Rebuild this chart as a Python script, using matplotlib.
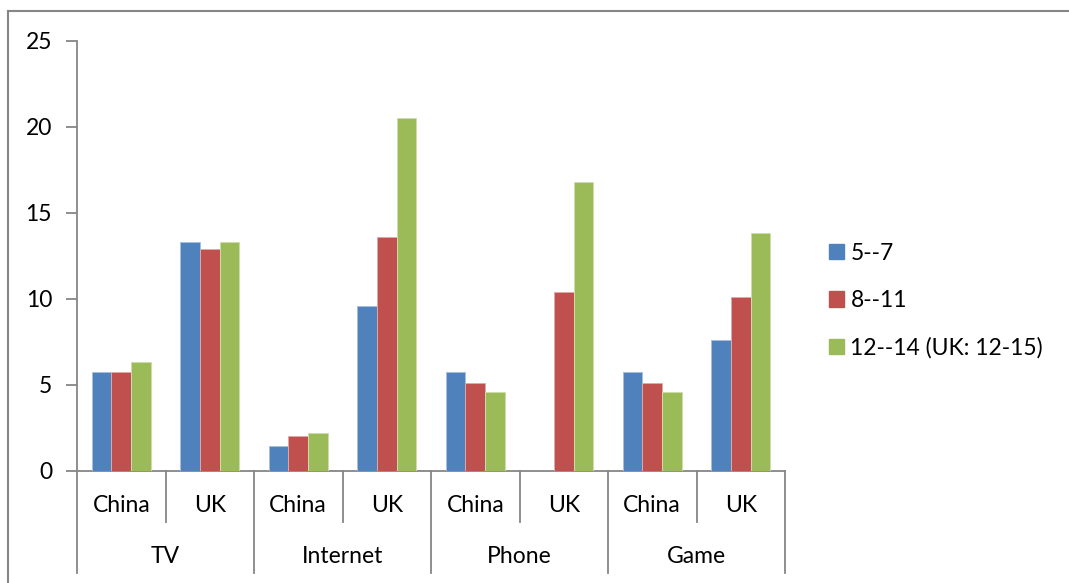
import matplotlib.pyplot as plt
import matplotlib.transforms as mtransforms
from matplotlib.lines import Line2D
import numpy as np

# data
media = ["TV", "Internet", "Phone", "Game"]
countries = ["China", "UK"]
series_names = ["5--7", "8--11", "12--14 (UK: 12-15)"]
age_5_7 = [5.72, 13.3, 1.41, 9.6, 5.72, 0, 5.72, 7.58]
age_8_11 = [5.76, 12.9, 2.03, 13.6, 5.08, 10.4, 5.08, 10.1]
age_12_14 = [6.3, 13.3, 2.21, 20.5, 4.55, 16.8, 4.55, 13.82]
colors = ["#4F81BD", "#C0504D", "#9BBB59"]
edges = ["#A7C0DE", "#E0A8A6", "#CDDDAC"]

plt.rcParams["font.family"] = ["Lato", "DejaVu Sans"]
fs = 16.5
axis_gray = "#868686"

W, H = 1069, 583
fig = plt.figure(figsize=(W / 100, H / 100), dpi=100)
ax = fig.add_axes([77 / W, (H - 470.7) / H, (785 - 77) / W, (470.7 - 40.7) / H])

n = len(media) * len(countries)
x = np.arange(n)
bw = 0.2222
for i, vals in enumerate([age_5_7, age_8_11, age_12_14]):
    ax.bar(x + (i - 1) * bw, vals, bw, color=colors[i], edgecolor=edges[i],
           linewidth=0.7, label=series_names[i], zorder=3)

ax.set_xlim(-0.5, n - 0.5)
ax.set_ylim(0, 25)
ax.set_yticks(np.arange(0, 26, 5))
ax.tick_params(axis="y", direction="out", length=8, width=1.3, color=axis_gray,
               labelsize=fs, pad=10)
ax.set_xticks([])
for s in ["top", "right"]:
    ax.spines[s].set_visible(False)
for s in ["left", "bottom"]:
    ax.spines[s].set_color(axis_gray)
    ax.spines[s].set_linewidth(1.3)

# two-level category axis
trans = mtransforms.blended_transform_factory(ax.transData, ax.transAxes)
for k in range(n):
    ax.text(x[k], -0.081, countries[k % 2], transform=trans, ha="center",
            va="center", fontsize=fs)
for g, m in enumerate(media):
    ax.text(2 * g + 0.5, -0.200, m, transform=trans, ha="center", va="center",
            fontsize=fs)
for b in range(n + 1):
    xb = b - 0.5
    y_end = -0.2385 if b % 2 == 0 else -0.119
    ax.add_line(Line2D([xb, xb], [0, y_end], transform=trans, color=axis_gray,
                       lw=1.3, clip_on=False))

# legend
handles = [plt.Rectangle((0, 0), 1, 1, color=c) for c in colors]
fig.legend(handles, series_names, loc="upper left",
           bbox_to_anchor=(808 / W, 1 - 222 / H), frameon=False, fontsize=fs,
           handlelength=0.65, handleheight=0.65, handletextpad=0.3,
           labelspacing=1.15)

# chart border (left and top only visible)
fig.add_artist(Line2D([8 / W, 8 / W], [0, 1 - 11 / H], color=axis_gray, lw=1.5))
fig.add_artist(Line2D([8 / W, 1], [1 - 11 / H, 1 - 11 / H], color=axis_gray, lw=1.5))

fig.savefig("out.png", dpi=100)
